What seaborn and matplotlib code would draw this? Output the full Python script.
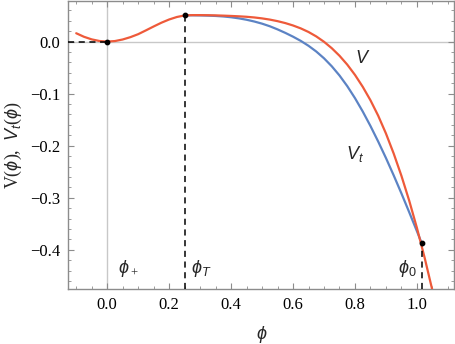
import matplotlib
matplotlib.use("Agg")
import matplotlib.pyplot as plt
from matplotlib.ticker import MultipleLocator, FixedLocator
import seaborn as sns
import pandas as pd

# ---- data ----
phi_V = [-0.100, -0.075, -0.050, -0.025, 0.000, 0.025, 0.050, 0.075, 0.100, 0.125,
         0.150, 0.175, 0.200, 0.225, 0.250, 0.275, 0.300, 0.325, 0.350, 0.375,
         0.400, 0.425, 0.450, 0.475, 0.500, 0.525, 0.550, 0.575, 0.600, 0.625,
         0.650, 0.675, 0.700, 0.725, 0.750, 0.775, 0.800, 0.825, 0.850, 0.875,
         0.900, 0.925, 0.950, 0.975, 1.000, 1.025, 1.050]
V_vals = [0.0160, 0.0092, 0.0042, 0.0011, 0.0000, 0.0010, 0.0040, 0.0085, 0.0142, 0.0215,
          0.0290, 0.0362, 0.0424, 0.0472, 0.0502, 0.0508, 0.0508, 0.0506, 0.0503, 0.0498,
          0.0492, 0.0485, 0.0476, 0.0463, 0.0445, 0.0422, 0.0392, 0.0355, 0.0309, 0.0253,
          0.0184, 0.0099, -0.0004, -0.0127, -0.0272, -0.0442, -0.0640, -0.0868, -0.1127, -0.1424,
          -0.1765, -0.2150, -0.2578, -0.3053, -0.3578, -0.4153, -0.4778]

phi_Vt = [0.250, 0.275, 0.300, 0.325, 0.350, 0.375, 0.400, 0.425, 0.450, 0.475,
          0.500, 0.525, 0.550, 0.575, 0.600, 0.625, 0.650, 0.675, 0.700, 0.725,
          0.750, 0.775, 0.800, 0.825, 0.850, 0.875, 0.900, 0.925, 0.950, 0.975,
          1.000, 1.015]
Vt_vals = [0.0504, 0.0504, 0.0502, 0.0498, 0.0492, 0.0482, 0.0467, 0.0446, 0.0419, 0.0385,
           0.0344, 0.0294, 0.0234, 0.0167, 0.0094, 0.0013, -0.0081, -0.0191, -0.0321, -0.0474,
           -0.0651, -0.0855, -0.1086, -0.1342, -0.1621, -0.1920, -0.2236, -0.2569, -0.2916, -0.3275,
           -0.3641, -0.3865]

key_phi = [0.0, 0.25, 1.015]          # phi_+, phi_T, phi_0
key_V = [0.0, 0.0504, -0.386]
key_labels = [r"$\phi_+$", r"$\phi_T$", r"$\phi_\mathsf{0}$"]

x_ticks = [0.0, 0.2, 0.4, 0.6, 0.8, 1.0]
y_ticks = [0.0, -0.1, -0.2, -0.3, -0.4]

RED = "#EE5A3A"
BLUE = "#5C83C4"
GRAY = "#8c8c8c"

sns.set_style("ticks")
plt.rcParams["font.family"] = ["Liberation Serif", "DejaVu Serif"]
plt.rcParams["mathtext.fontset"] = "custom"
plt.rcParams["mathtext.it"] = "Liberation Sans:italic"
plt.rcParams["mathtext.rm"] = "Liberation Serif"
plt.rcParams["mathtext.sf"] = "Liberation Sans"

fig = plt.figure(figsize=(4.55, 3.44), dpi=100)
ax = fig.add_axes([0.1505, 0.160, 0.8475, 0.838])

df_V = pd.DataFrame({"phi": phi_V, "V": V_vals})
df_Vt = pd.DataFrame({"phi": phi_Vt, "V": Vt_vals})

xmin, xmax = -0.125, 1.12
ymin, ymax = -0.475, 0.0785

# axes lines through origin
ax.axhline(0, color="#c8c8c8", lw=1.0, zorder=0)
ax.axvline(0, color="#c8c8c8", lw=1.0, zorder=0)

sns.lineplot(data=df_V, x="phi", y="V", ax=ax, color=RED, lw=1.6,
             sort=False, estimator=None, zorder=3)
sns.lineplot(data=df_Vt, x="phi", y="V", ax=ax, color=BLUE, lw=1.6,
             sort=False, estimator=None, zorder=2)

# dashed guides
ax.plot([xmin, key_phi[0]], [key_V[0], key_V[0]], ls=(0, (4, 3)), color="black", lw=1.1, zorder=4)
ax.plot([key_phi[1], key_phi[1]], [ymin, key_V[1]], ls=(0, (4, 3)), color="black", lw=1.1, zorder=4)
ax.plot([key_phi[2], key_phi[2]], [ymin, key_V[2]], ls=(0, (4, 3)), color="black", lw=1.1, zorder=4)
ax.scatter(key_phi, key_V, s=10, color="black", zorder=5)

# labels near the dots
ax.text(0.035, -0.435, key_labels[0], fontsize=13, ha="left", va="center")
ax.text(0.27, -0.435, key_labels[1], fontsize=13, ha="left", va="center")
ax.text(0.998, -0.435, key_labels[2], fontsize=13, ha="right", va="center")
ax.text(0.825, -0.033, r"$V$", fontsize=13, ha="center", va="center")
ax.text(0.80, -0.215, r"$V_t$", fontsize=13, ha="center", va="center")

ax.set_xlim(xmin, xmax)
ax.set_ylim(ymin, ymax)
ax.xaxis.set_major_locator(FixedLocator(x_ticks))
ax.yaxis.set_major_locator(FixedLocator(y_ticks))
ax.xaxis.set_minor_locator(MultipleLocator(0.05))
ax.yaxis.set_minor_locator(MultipleLocator(0.02))
ax.set_xticklabels([f"{t:.1f}" for t in x_ticks])
ax.set_yticklabels([f"{t:.1f}".replace("-", "\u2212") for t in y_ticks])

for s in ax.spines.values():
    s.set_color(GRAY)
    s.set_linewidth(1.0)
ax.tick_params(which="both", direction="in", top=True, right=True, color=GRAY,
               labelsize=12, labelcolor="black", pad=6)
ax.tick_params(which="major", length=4, width=0.8)
ax.tick_params(which="minor", length=2, width=0.6)

ax.set_xlabel(r"$\phi$", fontsize=13, labelpad=8)
ax.set_ylabel(r"V($\phi$),  $V_t$($\phi$)", fontsize=13, labelpad=4)

fig.savefig("out.png", dpi=100)
